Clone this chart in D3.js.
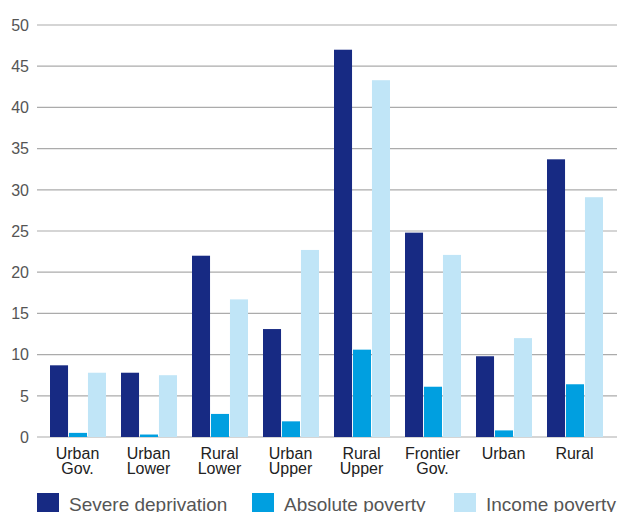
<!DOCTYPE html>
<html><head><meta charset="utf-8">
<script src="https://cdn.jsdelivr.net/npm/d3@7"></script>
<style>body{margin:0;background:#fff}svg{display:block}</style>
</head><body>
<svg id="c" width="617" height="512"></svg>
<script>
const categories = [["Urban","Gov."],["Urban","Lower"],["Rural","Lower"],["Urban","Upper"],["Rural","Upper"],["Frontier","Gov."],["Urban"],["Rural"]];
const seriesNames = ["Severe deprivation","Absolute poverty","Income poverty"];
const severe = [8.7, 7.8, 22.0, 13.1, 47.0, 24.8, 9.8, 33.7];
const absolute = [0.5, 0.3, 2.8, 1.9, 10.6, 6.1, 0.8, 6.4];
const income = [7.8, 7.5, 16.7, 22.7, 43.3, 22.1, 12.0, 29.1];
const yTicks = [0,5,10,15,20,25,30,35,40,45,50];
const colors = ["#172a83","#009fe0","#c0e5f7"];

const series = [severe, absolute, income];
const svg = d3.select("#c");
const font = "'Liberation Sans', Arial, sans-serif";

const y = d3.scaleLinear().domain([0,50]).range([437,25]);
const x0 = d3.scaleBand().domain(d3.range(categories.length)).range([42,610]).padding(0);
const x1 = d3.scaleBand().domain(d3.range(3)).range([8,64]).paddingInner(0.05);

// grid
svg.append("g").selectAll("line").data(yTicks).join("line")
  .attr("x1",37).attr("x2",617).attr("y1",d=>y(d)).attr("y2",d=>y(d))
  .attr("stroke","#ababab").attr("stroke-width",1.2);

// y labels
svg.append("g").selectAll("text").data(yTicks).join("text")
  .attr("x",29).attr("y",d=>y(d)).attr("dy","0.36em").attr("text-anchor","end")
  .attr("font-family",font).attr("font-size",16).attr("fill","#555")
  .text(d=>d);

// bars
const g = svg.append("g").selectAll("g").data(categories).join("g")
  .attr("transform",(d,i)=>`translate(${x0(i)},0)`);
g.selectAll("rect").data((d,i)=>series.map((s,k)=>({k,v:s[i]}))).join("rect")
  .attr("x",d=>x1(d.k)).attr("width",x1.bandwidth())
  .attr("y",d=>y(d.v)).attr("height",d=>y(0)-y(d.v))
  .attr("fill",d=>colors[d.k]);

// x labels
g.each(function(d,i){
  const t = d3.select(this).append("text")
    .attr("x",x0.bandwidth()/2).attr("y",459).attr("text-anchor","middle")
    .attr("font-family",font).attr("font-size",16).attr("fill","#222");
  d.forEach((line,j)=>t.append("tspan").attr("x",x0.bandwidth()/2).attr("dy",j===0?0:14.5).text(line));
});

// legend
const legX = [37,252,454];
const leg = svg.append("g").selectAll("g").data(seriesNames).join("g")
  .attr("transform",(d,i)=>`translate(${legX[i]},493)`);
leg.append("rect").attr("width",22).attr("height",22).attr("fill",(d,i)=>colors[i]);
leg.append("text").attr("x",32).attr("y",18).attr("font-family",font).attr("font-size",19)
  .attr("fill","#555").text(d=>d);
</script>
</body></html>
